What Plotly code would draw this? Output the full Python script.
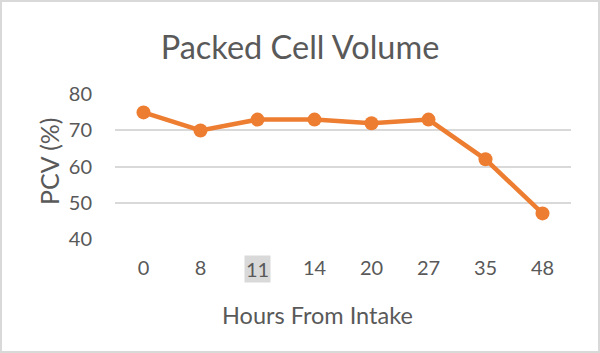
import plotly.graph_objects as go

categories = ["0", "8", "11", "14", "20", "27", "35", "48"]
pcv = [75, 70, 73, 73, 72, 73, 62, 47]
y_ticks = [40, 50, 60, 70, 80]
highlighted = "11"
chart_title = "Packed Cell Volume"
x_title = "Hours From Intake"
y_title = "PCV (%)"

W, H = 600, 353
L, R, T, B = 115, 29, 94, 114
pw, ph = W - L - R, H - T - B

tick_text = [" " if c == highlighted else c for c in categories]
hl_index = categories.index(highlighted)

fig = go.Figure()
fig.add_trace(go.Scatter(
    x=list(range(len(categories))), y=pcv, mode="lines+markers",
    line=dict(color="#ED7D31", width=4.5),
    marker=dict(color="#ED7D31", size=14),
    hovertext=categories, hoverinfo="text+y",
))

grey = "#595959"
fig.update_layout(
    width=W, height=H,
    margin=dict(l=L, r=R, t=T, b=B),
    paper_bgcolor="white", plot_bgcolor="white",
    showlegend=False,
    font=dict(family="Lato, 'Open Sans', sans-serif", color=grey, size=20),
    title=dict(text=chart_title, x=0.5, xanchor="center",
               xref="container", y=1 - 48 / H, yanchor="middle",
               font=dict(size=32.5, color=grey)),
    xaxis=dict(range=[-0.5, len(categories) - 0.5],
               tickvals=list(range(len(categories))), ticktext=tick_text,
               showgrid=False, showline=False, ticks="", zeroline=False,
               ticklabelstandoff=15,
               tickfont=dict(size=20, color=grey)),
    yaxis=dict(range=[39.9, 80.1], tickvals=y_ticks, showgrid=True,
               gridcolor="#D9D9D9", gridwidth=1.5, zeroline=False,
               showline=False, ticks="", ticklabelstandoff=22,
               tickfont=dict(size=20, color=grey)),
)

# x-axis title
fig.add_annotation(x=(317 - L) / pw, xref="paper", y=(H - B - 315) / ph, yref="paper",
                   xanchor="center", yanchor="middle", text=x_title,
                   showarrow=False, font=dict(size=23.5, color=grey))

# y-axis title
fig.add_annotation(x=(49 - L) / pw, xref="paper", y=(H - B - 161) / ph, yref="paper",
                   xanchor="center", yanchor="middle", textangle=-90,
                   text=y_title, showarrow=False,
                   font=dict(size=25, color=grey))

# highlighted tick label
fig.add_annotation(x=hl_index, xref="x", y=0, yref="paper",
                   yshift=-30, yanchor="middle", text=highlighted,
                   showarrow=False, bgcolor="#D9D9D9", borderpad=1,
                   font=dict(size=20, color=grey))

# outer border
fig.add_shape(type="rect", xref="paper", yref="paper",
              x0=(1 - L) / pw, x1=(W - 1 - L) / pw,
              y0=-(B - 1) / ph, y1=1 + (T - 1) / ph,
              line=dict(color="#D9D9D9", width=2), fillcolor="rgba(0,0,0,0)")

fig.write_html("out.html")
